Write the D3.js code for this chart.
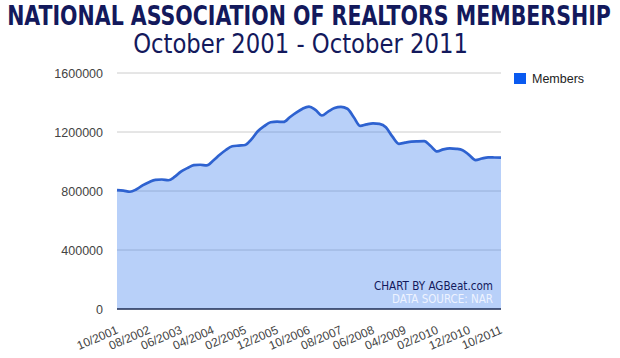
<!DOCTYPE html>
<html>
<head>
<meta charset="utf-8">
<script src="https://cdn.jsdelivr.net/npm/d3@7"></script>
<style>
  html, body { margin: 0; padding: 0; background: #fff; }
  svg { display: block; }
</style>
</head>
<body>
<svg id="chart" width="620" height="358"></svg>
<script>
// ---- Data (bimonthly, Oct 2001 .. Oct 2011) ----
const startMonth = "2001-10";
const members = [
  806000, 802000, 795000, 810000, 838000, 860000, 876000, 878000, 873000, 895000,
  932000, 955000, 975000, 978000, 974000, 1005000, 1044000, 1078000, 1103000, 1108000,
  1112000, 1150000, 1205000, 1240000, 1266000, 1270000, 1268000, 1300000, 1331000, 1358000,
  1372000, 1350000, 1312000, 1338000, 1362000, 1370000, 1358000, 1300000, 1241000, 1252000,
  1259000, 1255000, 1232000, 1170000, 1120000, 1128000, 1135000, 1137000, 1138000, 1105000,
  1068000, 1082000, 1089000, 1086000, 1077000, 1045000, 1010000, 1020000, 1028000, 1027000,
  1026000
];
const xTickLabels = ["10/2001","08/2002","06/2003","04/2004","02/2005","12/2005","10/2006",
                     "08/2007","06/2008","04/2009","02/2010","12/2010","10/2011"];
const yTicks = [0, 400000, 800000, 1200000, 1600000];
const seriesName = "Members";
const title = "NATIONAL ASSOCIATION OF REALTORS MEMBERSHIP";
const subtitle = "October 2001 - October 2011";
const credit1 = "CHART BY AGBeat.com";
const credit2 = "DATA SOURCE: NAR";

// ---- Layout ----
const svg = d3.select("#chart");
const plotL = 117, plotR = 501, plotT = 73, plotB = 309;

const start = d3.timeParse("%Y-%m")(startMonth);
const data = members.map((v, i) => ({ date: d3.timeMonth.offset(start, i * 2), value: v }));
const tickDates = xTickLabels.map(s => d3.timeParse("%m/%Y")(s));

const x = d3.scaleTime()
  .domain([data[0].date, data[data.length - 1].date])
  .range([plotL, plotR]);
const y = d3.scaleLinear().domain([0, 1600000]).range([plotB, plotT]);

const condensed = "'DejaVu Sans Condensed', 'Liberation Sans Narrow', 'DejaVu Sans', sans-serif";

// Text squeezed horizontally to a target width via a transform
function fitText(cx, cy, width, size, weight, txt) {
  const t = svg.append("text")
    .attr("text-anchor", "middle")
    .attr("font-family", condensed)
    .attr("font-weight", weight)
    .attr("font-size", size)
    .attr("fill", "#13195c")
    .text(txt);
  const natural = t.node().getComputedTextLength();
  t.attr("transform", `translate(${cx},${cy}) scale(${width / natural},1)`);
  return t;
}

// Titles
fitText(309, 25, 604, 26, "bold", title);
fitText(300.5, 53, 335, 26, "normal", subtitle);

// Gridlines
svg.append("g")
  .selectAll("line")
  .data(yTicks.filter(d => d > 0))
  .join("line")
  .attr("x1", plotL).attr("x2", plotR)
  .attr("y1", d => y(d)).attr("y2", d => y(d))
  .attr("stroke", "#cccccc").attr("stroke-width", 1);

// Area
const area = d3.area()
  .x(d => x(d.date)).y0(y(0)).y1(d => y(d.value))
  .curve(d3.curveMonotoneX);
svg.append("path")
  .datum(data)
  .attr("d", area)
  .attr("fill", "#3f7fef")
  .attr("fill-opacity", 0.37);

// Line
const line = d3.line()
  .x(d => x(d.date)).y(d => y(d.value))
  .curve(d3.curveMonotoneX);
svg.append("path")
  .datum(data)
  .attr("d", line)
  .attr("fill", "none")
  .attr("stroke", "#2e62d0")
  .attr("stroke-width", 2.7)
  .attr("stroke-linejoin", "round");

// Baseline
svg.append("line")
  .attr("x1", plotL).attr("x2", plotR)
  .attr("y1", y(0)).attr("y2", y(0))
  .attr("stroke", "#1d2b52").attr("stroke-width", 1.5);

// Y axis labels
const yAxis = d3.axisLeft(y).tickValues(yTicks).tickSize(0).tickPadding(14)
  .tickFormat(d3.format("d"));
const gy = svg.append("g").attr("transform", `translate(${plotL},0)`).call(yAxis);
gy.select(".domain").remove();
gy.selectAll("text")
  .attr("font-family", "Arial, 'Liberation Sans', sans-serif")
  .attr("font-size", 12.5)
  .attr("fill", "#444");

// X axis labels
const xAxis = d3.axisBottom(x).tickValues(tickDates).tickSize(0)
  .tickFormat((d, i) => xTickLabels[i]);
const gx = svg.append("g").attr("transform", `translate(0,${plotB})`).call(xAxis);
gx.select(".domain").remove();
gx.selectAll("text")
  .attr("font-family", "Arial, 'Liberation Sans', sans-serif")
  .attr("font-size", 12)
  .attr("fill", "#444")
  .attr("text-anchor", "end")
  .attr("dy", 0)
  .attr("y", 0)
  .attr("transform", "translate(1.5,24) rotate(-23)");

// Credits
svg.append("text")
  .attr("x", 493).attr("y", 290)
  .attr("text-anchor", "end")
  .attr("font-family", condensed)
  .attr("font-size", 12)
  .attr("fill", "#13195c")
  .attr("textLength", 119)
  .attr("lengthAdjust", "spacingAndGlyphs")
  .text(credit1);
svg.append("text")
  .attr("x", 493).attr("y", 303)
  .attr("text-anchor", "end")
  .attr("font-family", condensed)
  .attr("font-size", 11.5)
  .attr("fill", "#eef3ff")
  .attr("textLength", 101)
  .attr("lengthAdjust", "spacingAndGlyphs")
  .text(credit2);

// Legend
const lg = svg.append("g").attr("transform", "translate(514,73)");
lg.append("rect").attr("width", 12).attr("height", 11).attr("fill", "#0a5af0");
lg.append("text")
  .attr("x", 18).attr("y", 10)
  .attr("font-family", "Arial, 'Liberation Sans', sans-serif")
  .attr("font-size", 12.5)
  .attr("fill", "#222")
  .text(seriesName);
</script>
</body>
</html>
